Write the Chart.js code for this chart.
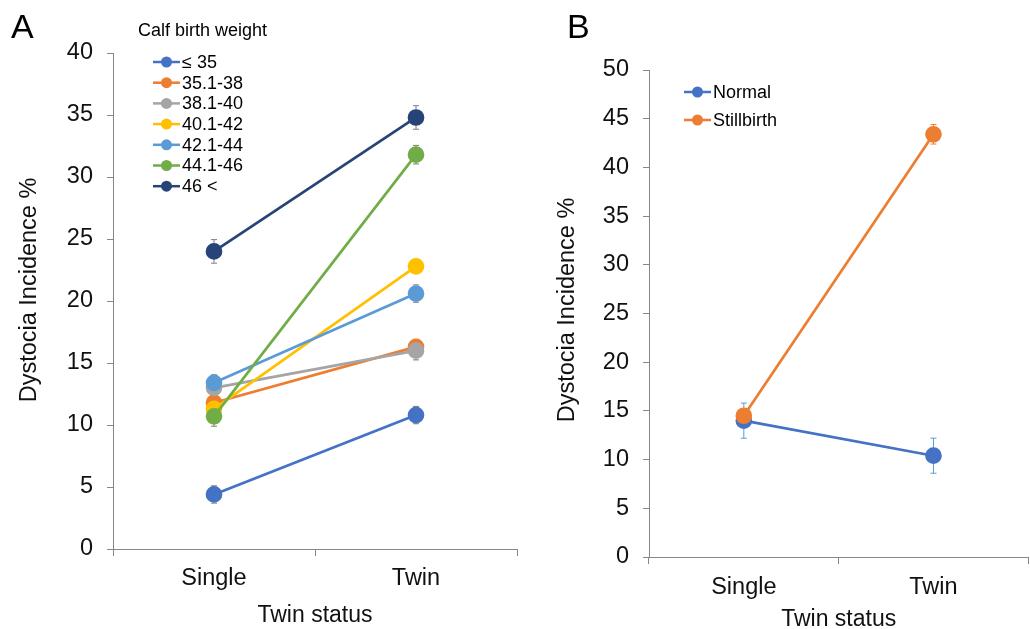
<!DOCTYPE html>
<html>
<head>
<meta charset="utf-8">
<script src="https://cdn.jsdelivr.net/npm/chart.js@4/dist/chart.umd.min.js"></script>
<style>
  body { margin: 0; background: #fff; }
  #wrap { position: relative; width: 1030px; height: 629px; overflow: hidden; }
  #chartA { position: absolute; left: 0; top: 0; }
  #chartB { position: absolute; left: 540px; top: 0; }
</style>
</head>
<body>
<div id="wrap">
  <canvas id="chartA" width="540" height="629"></canvas>
  <canvas id="chartB" width="498" height="633"></canvas>
</div>
<script>
// categories
const categories = ['Single', 'Twin'];

// panel A: calf birth weight classes, values are [Single, Twin]
const weightLabels = ['≤ 35', '35.1-38', '38.1-40', '40.1-42', '42.1-44', '44.1-46', '46 <'];
const weightColors = ['#4472C4', '#ED7D31', '#A5A5A5', '#FFC000', '#5B9BD5', '#70AD47', '#264478'];
const weightValues = [
  [4.4, 10.8],
  [11.8, 16.3],
  [13.0, 16.0],
  [11.3, 22.8],
  [13.4, 20.6],
  [10.7, 31.8],
  [24.0, 34.8]
];
const weightErrors = [
  [0.7, 0.7],
  [0.5, 0.6],
  [0.6, 0.75],
  [0.4, 0.4],
  [0.65, 0.7],
  [0.8, 0.75],
  [0.95, 0.95]
];

// panel B: calving outcome
const statusLabels = ['Normal', 'Stillbirth'];
const statusColors = ['#4472C4', '#ED7D31'];
const statusValues = [
  [14.0, 10.4],
  [14.5, 43.4]
];
const statusErrors = [
  [1.8, 1.8],
  [0.6, 1.0]
];

const FONT = "'Liberation Sans', Arial, sans-serif";
const AXIS_COLOR = '#868686';

// draws error bars under the markers
const errorBars = {
  id: 'errorBars',
  beforeDatasetsDraw(chart, args, opts) {
    const { ctx, scales: { x, y } } = chart;
    ctx.save();
    ctx.lineWidth = 1;
    chart.data.datasets.forEach((ds, i) => {
      ctx.strokeStyle = opts.colors ? opts.colors[i] : opts.color;
      ds.errors.forEach((e, j) => {
        const px = x.getPixelForValue(j);
        const top = y.getPixelForValue(ds.data[j] + e);
        const bot = y.getPixelForValue(ds.data[j] - e);
        ctx.beginPath();
        ctx.moveTo(px, top); ctx.lineTo(px, bot);
        ctx.moveTo(px - 3, top); ctx.lineTo(px + 3, top);
        ctx.moveTo(px - 3, bot); ctx.lineTo(px + 3, bot);
        ctx.stroke();
      });
    });
    ctx.restore();
  }
};

// legend with line + dot samples inside the plot, y title and panel letter
const lineLegend = {
  id: 'lineLegend',
  afterDraw(chart, args, opts) {
    const ctx = chart.ctx;
    ctx.save();
    ctx.fillStyle = '#000';
    ctx.textBaseline = 'middle';
    if (opts.title) {
      ctx.font = '18px ' + FONT;
      ctx.fillText(opts.title, opts.titleX, opts.titleY);
    }
    ctx.font = '18px ' + FONT;
    chart.data.datasets.forEach((ds, i) => {
      const yy = opts.y + i * opts.step;
      ctx.strokeStyle = ds.borderColor;
      ctx.lineWidth = 2.5;
      ctx.beginPath();
      ctx.moveTo(opts.x, yy); ctx.lineTo(opts.x + 27, yy);
      ctx.stroke();
      ctx.fillStyle = ds.borderColor;
      ctx.beginPath();
      ctx.arc(opts.x + 13.5, yy, 5.5, 0, Math.PI * 2);
      ctx.fill();
      ctx.fillStyle = '#000';
      ctx.fillText(ds.label, opts.x + 29, yy + 1);
    });

    // y axis title
    ctx.save();
    ctx.translate(opts.yTitleX, opts.yTitleY);
    ctx.rotate(-Math.PI / 2);
    ctx.textAlign = 'center';
    ctx.font = '23.5px ' + FONT;
    ctx.fillStyle = '#111';
    ctx.fillText('Dystocia Incidence %', 0, 0);
    ctx.restore();

    // panel letter
    ctx.font = '34px ' + FONT;
    ctx.textBaseline = 'alphabetic';
    ctx.fillText(opts.letter, opts.letterX, 38);
    ctx.restore();
  }
};

function makeDatasets(labels, colors, values, errors) {
  return labels.map((label, i) => ({
    label: label,
    data: values[i],
    errors: errors[i],
    borderColor: colors[i],
    backgroundColor: colors[i],
    pointBackgroundColor: colors[i],
    pointBorderColor: colors[i],
    borderWidth: 2.7,
    pointRadius: 7,
    pointHoverRadius: 7,
    tension: 0,
    order: -i
  }));
}

function makeChart(id, cfg) {
  return new Chart(document.getElementById(id), {
    type: 'line',
    data: {
      labels: categories,
      datasets: makeDatasets(cfg.labels, cfg.colors, cfg.values, cfg.errors)
    },
    options: {
      responsive: false,
      animation: false,
      layout: { padding: { left: 0, top: cfg.top, right: cfg.right, bottom: 0 } },
      plugins: {
        legend: { display: false },
        tooltip: { enabled: false },
        errorBars: cfg.errorStyle,
        lineLegend: cfg.legend
      },
      scales: {
        x: {
          offset: true,
          afterFit: s => { s.height = cfg.xHeight; },
          grid: { offset: true, drawOnChartArea: false, color: AXIS_COLOR, tickLength: 7 },
          border: { color: AXIS_COLOR, width: 1 },
          ticks: { color: '#111', padding: cfg.xTickPad, font: { family: FONT, size: 23.5 } },
          title: {
            display: true, text: 'Twin status', color: '#111',
            font: { family: FONT, size: 23 }, padding: { top: 0, bottom: 0 }
          }
        },
        y: {
          min: 0, max: cfg.max,
          afterFit: s => { s.width = cfg.yWidth; },
          grid: { drawOnChartArea: false, color: AXIS_COLOR, tickLength: 6 },
          border: { color: AXIS_COLOR, width: 1 },
          ticks: { stepSize: 5, color: '#111', padding: 14, font: { family: FONT, size: 23.5 } },
          title: { display: false }
        }
      }
    },
    plugins: [errorBars, lineLegend]
  });
}

makeChart('chartA', {
  labels: weightLabels, colors: weightColors, values: weightValues, errors: weightErrors,
  max: 40, top: 53, right: 23, xHeight: 80, yWidth: 113, xTickPad: 8,
  errorStyle: { color: '#7f7f7f' },
  legend: { x: 153, y: 62, step: 20.7, title: 'Calf birth weight', titleX: 138, titleY: 31,
            letter: 'A', letterX: 11, yTitleX: 30, yTitleY: 290 }
});

makeChart('chartB', {
  labels: statusLabels, colors: statusColors, values: statusValues, errors: statusErrors,
  max: 50, top: 70, right: 0, xHeight: 76, yWidth: 109, xTickPad: 9,
  errorStyle: { colors: ['#5B9BD5', '#ED7D31'] },
  legend: { x: 144, y: 92, step: 28, title: null,
            letter: 'B', letterX: 27, yTitleX: 28, yTitleY: 310 }
});
</script>
</body>
</html>
